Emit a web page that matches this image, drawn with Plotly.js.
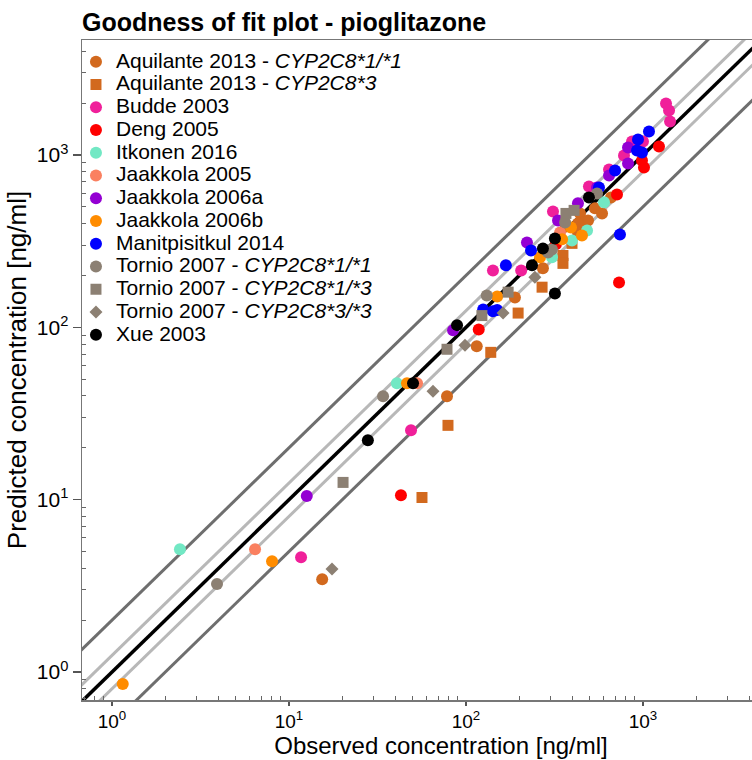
<!DOCTYPE html>
<html><head><meta charset="utf-8">
<script src="https://cdn.plot.ly/plotly-3.0.1.min.js"></script>
<style>html,body{margin:0;padding:0;overflow:hidden;background:#fff}</style>
</head><body><div id="chart" style="width:800px;height:760px"></div>
<script>
// ---- data (observed, predicted) in ng/ml ----
const aquilante11Obs  = [659, 535, 587, 441, 458, 489, 429, 429, 367, 272, 189, 115, 78.1, 15.4];
const aquilante11Pred = [567, 490, 458, 458, 406, 417, 401, 355, 385, 220, 149, 77.6, 39.8, 3.46];
const aquilante3Obs   = [353, 353, 269, 397, 197, 138, 79.1, 56.4];
const aquilante3Pred  = [261, 235, 171, 307, 121, 71.6, 27.0, 10.3];
const buddeObs  = [1349, 1403, 1422, 867, 1000, 781, 643, 495, 310, 142, 205, 48.9, 11.7];
const buddePred = [1990, 1811, 1564, 1197, 1197, 993, 824, 657, 470, 214, 214, 25.3, 4.64];
const dengObs  = [1231, 987, 1013, 713, 732, 118, 42.9, 322];
const dengPred = [1120, 929, 847, 590, 182, 97.3, 10.6, 303];
const itkonenObs  = [602, 483, 397, 306, 40.7, 2.42];
const itkonenPred = [531, 365, 319, 255, 47.4, 5.16];
const jaakkola05Obs  = [52.9, 6.43, 340];
const jaakkola05Pred = [47.4, 5.16, 355];
const jaakkola06aObs  = [823, 823, 643, 550, 429, 331, 221, 84.5, 12.6];
const jaakkola06aPred = [1105, 893, 760, 648, 524, 417, 311, 96.1, 10.5];
const jaakkola06bObs  = [349, 392, 452, 262, 150, 46.4, 8.02, 1.15];
const jaakkola06bPred = [324, 380, 341, 255, 151, 47.4, 4.40, 0.852];
const manitObs  = [1081, 937, 925, 987, 695, 564, 741, 233, 168, 125, 142, 150];
const manitPred = [1368, 1230, 1062, 1033, 813, 648, 346, 279, 229, 127, 124, 126];
const tornio11Obs  = [550, 306, 291, 131, 34.0, 3.92, 363];
const tornio11Pred = [598, 283, 272, 153, 39.8, 3.24, 406];
const tornio13Obs  = [367, 408, 173, 123, 78.1, 20.2];
const tornio13Pred = [458, 477, 160, 117, 74.6, 12.6];
const tornio33Obs  = [245, 162, 98.7, 65.1, 17.5];
const tornio33Pred = [195, 121, 78.7, 42.6, 3.96];
const xueObs  = [495, 318, 272, 236, 318, 89.0, 50.2, 27.9];
const xuePred = [567, 328, 287, 229, 157, 103, 47.4, 22.1];

// fold-deviation guide lines
const foldFactors = [2, 1.25, 1];
const lineExtent = [0.1, 20000];

const FONT = 'Arial, "Liberation Sans", Helvetica, sans-serif';
const LEG = t => '<span style="font-size:21px">' + t + '</span>';
const series = [
  {name:'Aquilante 2013 - <i>CYP2C8*1/*1</i>', x:aquilante11Obs, y:aquilante11Pred, color:'#D2691E', symbol:'circle', size:12},
  {name:'Aquilante 2013 - <i>CYP2C8*3</i>', x:aquilante3Obs, y:aquilante3Pred, color:'#D2691E', symbol:'square', size:11},
  {name:'Budde 2003', x:buddeObs, y:buddePred, color:'#F0209A', symbol:'circle', size:12},
  {name:'Deng 2005', x:dengObs, y:dengPred, color:'#FF0000', symbol:'circle', size:12},
  {name:'Itkonen 2016', x:itkonenObs, y:itkonenPred, color:'#72E8C4', symbol:'circle', size:12},
  {name:'Jaakkola 2005', x:jaakkola05Obs, y:jaakkola05Pred, color:'#FA8060', symbol:'circle', size:12},
  {name:'Jaakkola 2006a', x:jaakkola06aObs, y:jaakkola06aPred, color:'#9400D3', symbol:'circle', size:12},
  {name:'Jaakkola 2006b', x:jaakkola06bObs, y:jaakkola06bPred, color:'#FF8C00', symbol:'circle', size:12},
  {name:'Manitpisitkul 2014', x:manitObs, y:manitPred, color:'#0000FF', symbol:'circle', size:12},
  {name:'Tornio 2007 - <i>CYP2C8*1/*1</i>', x:tornio11Obs, y:tornio11Pred, color:'#8C8073', symbol:'circle', size:12},
  {name:'Tornio 2007 - <i>CYP2C8*1/*3</i>', x:tornio13Obs, y:tornio13Pred, color:'#8C8073', symbol:'square', size:11},
  {name:'Tornio 2007 - <i>CYP2C8*3/*3</i>', x:tornio33Obs, y:tornio33Pred, color:'#8C8073', symbol:'diamond', size:10},
  {name:'Xue 2003', x:xueObs, y:xuePred, color:'#000000', symbol:'circle', size:12}
];

const traces = [];
const lineStyle = {2:{color:'#6E6E6E', width:3}, 1.25:{color:'#B8B8B8', width:3}, 1:{color:'#000000', width:3.5}};
foldFactors.forEach(f => {
  const facs = f === 1 ? [1] : [f, 1/f];
  facs.forEach(k => {
    traces.push({x: lineExtent, y: lineExtent.map(v => v*k), mode:'lines', line: lineStyle[f],
      showlegend:false, hoverinfo:'skip', type:'scatter'});
  });
});
series.forEach(s => {
  traces.push({x:s.x, y:s.y, name:LEG(s.name), type:'scatter', mode:'markers',
    marker:{color:s.color, symbol:s.symbol, size:s.size, line:{width:0}}});
});

const minorVals = [];
[0.1, 1, 10, 100, 1000].forEach(d => { for (let m = 2; m <= 9; m++) minorVals.push(d*m); });
const majorVals = [1, 10, 100, 1000];
const majorText = ['10<sup>0</sup>', '10<sup>1</sup>', '10<sup>2</sup>', '10<sup>3</sup>'];

const axisCommon = {
  type:'log', showgrid:false, zeroline:false, showline:true, linecolor:'#777777', linewidth:1.5,
  ticks:'outside', ticklen:8, tickwidth:1.2, tickcolor:'#555555',
  tickmode:'array', tickvals:majorVals, ticktext:majorText,
  tickfont:{family:FONT, size:21, color:'#000'},
  minor:{tickmode:'array', tickvals:minorVals, ticks:'inside', ticklen:4, tickcolor:'#666666', tickwidth:1, showgrid:false}
};

const layout = {
  width:800, height:760,
  margin:{l:82, r:0, t:40, b:60},
  paper_bgcolor:'#fff', plot_bgcolor:'#fff',
  font:{family:FONT, color:'#000'},
  title:{text:'<b>Goodness of fit plot - pioglitazone</b>', x:82/800, xanchor:'left', xref:'container',
    y:0.971, yanchor:'middle', yref:'container', font:{family:FONT, size:25, color:'#000'}},
  xaxis:Object.assign({}, axisCommon, {range:[-0.1695, 3.887], mirror:true, ticklen:4,
    tickfont:{family:FONT, size:19, color:'#000'},
    title:{text:'Observed concentration [ng/ml]', font:{family:FONT, size:24}, standoff:6}}),
  yaxis:Object.assign({}, axisCommon, {range:[-0.162, 3.667],
    title:{text:'Predicted concentration [ng/ml]', font:{family:FONT, size:26}, standoff:2}}),
  legend:{x:-0.0084, xanchor:'left', y:0.992, yanchor:'top', bgcolor:'rgba(0,0,0,0)', borderwidth:0,
    font:{family:FONT, size:15.2, color:'#000'}, tracegroupgap:0, itemsizing:'trace'},
  showlegend:true
};

Plotly.newPlot('chart', traces, layout, {displayModeBar:false, staticPlot:true});
</script></body></html>
